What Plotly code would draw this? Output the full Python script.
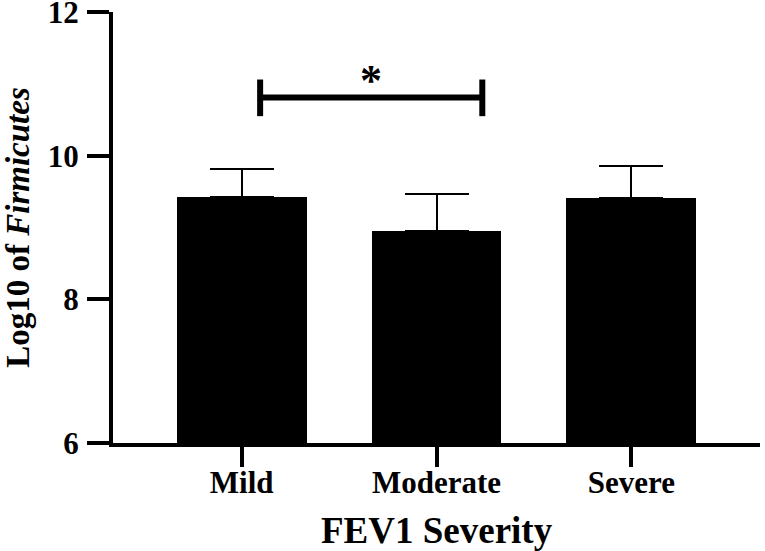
import plotly.graph_objects as go

CATEGORIES = ["Mild", "Moderate", "Severe"]
MEANS = [9.43, 8.95, 9.41]
ERR_UP = [0.38, 0.52, 0.45]
ERR_DOWN = [0, 0, 0]

Y_TICKS = [6, 8, 10, 12]

# significance bracket (Mild vs Moderate)
SIG_X = [0.095, 1.235]
SIG_Y = 10.81
SIG_TICK = [10.55, 11.06]
SIG_TEXT = "*"

FONT = "Liberation Serif"

fig = go.Figure()

fig.add_trace(go.Bar(
    x=CATEGORIES,
    y=MEANS,
    base=0,
    width=0.667,
    marker=dict(color="black", line=dict(width=0)),
    error_y=dict(
        type="data",
        symmetric=False,
        array=ERR_UP,
        arrayminus=ERR_DOWN,
        color="black",
        thickness=2,
        width=32,
    ),
    showlegend=False,
))

line_style = dict(color="black", width=6)
fig.add_shape(type="line", xref="x", yref="y",
              x0=SIG_X[0], x1=SIG_X[1], y0=SIG_Y, y1=SIG_Y, line=line_style)
for xx in SIG_X:
    fig.add_shape(type="line", xref="x", yref="y",
                  x0=xx, x1=xx, y0=SIG_TICK[0], y1=SIG_TICK[1], line=line_style)

fig.add_annotation(
    x=sum(SIG_X) / 2, y=11.13, xref="x", yref="y",
    text=SIG_TEXT, showarrow=False,
    font=dict(family=FONT, size=44, color="black", weight="bold"),
    yanchor="middle", yshift=-6,
)

bold = dict(family=FONT, color="black", weight="bold")

# x axis title as an annotation so it can sit right at the bottom edge
fig.add_annotation(
    x=0.5, y=0, xref="paper", yref="paper",
    text="FEV1 Severity", showarrow=False,
    font=dict(bold, size=37),
    xanchor="center", yanchor="middle", yshift=-87,
)

fig.update_layout(
    width=765,
    height=551,
    margin=dict(l=113, r=5, t=12, b=108),
    paper_bgcolor="white",
    plot_bgcolor="white",
    font=dict(family=FONT, color="black"),
    bargap=0,
    xaxis=dict(
        range=[-0.66, 2.66],
        automargin=False,
        showline=True, linecolor="black", linewidth=4,
        ticks="outside", ticklen=20, tickwidth=4, tickcolor="black",
        tickfont=dict(bold, size=31),
        ticklabelstandoff=-11,
        showgrid=False, zeroline=False,
    ),
    yaxis=dict(
        range=[6, 12],
        automargin=False,
        tickvals=Y_TICKS,
        ticklabeloverflow="allow",
        showline=True, linecolor="black", linewidth=4,
        ticks="outside", ticklen=22, tickwidth=4, tickcolor="black",
        tickfont=dict(bold, size=31),
        ticklabelstandoff=2,
        title=dict(text="Log10 of <i>Firmicutes</i>", font=dict(bold, size=33),
                   standoff=18),
        showgrid=False, zeroline=False,
    ),
)

# drop the default 8px page margin so the figure fills the window
fig.write_html("out.html", config={"displayModeBar": False},
               post_script="document.body.style.margin = '0';")
